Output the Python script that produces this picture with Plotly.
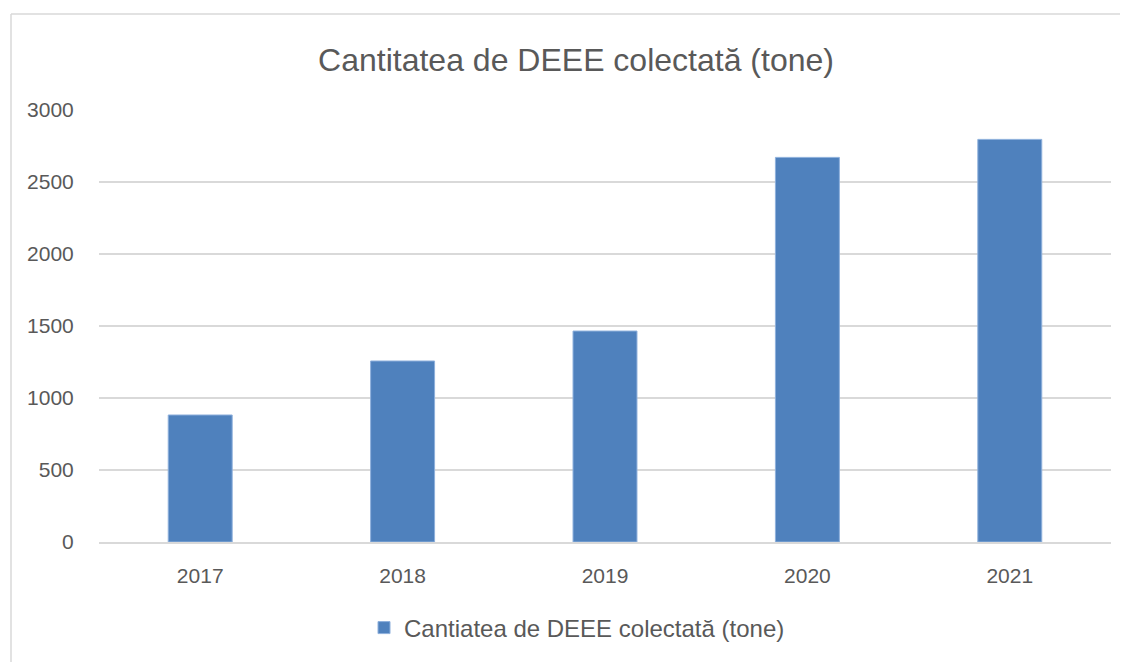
import plotly.graph_objects as go

years = ["2017", "2018", "2019", "2020", "2021"]
values = [882, 1257, 1465, 2671, 2796]
series_name = "Cantiatea de DEEE colectată (tone)"
title_text = "Cantitatea de DEEE colectată (tone)"
y_ticks = [0, 500, 1000, 1500, 2000, 2500, 3000]

# page has an 8px body margin; work in page coordinates minus 8
OFF = 8
W, H = 1128 - OFF, 662 - OFF
L, T = 99 - OFF, 110 - OFF
R = 1128 - 1111
B = 662 - 542
pw = W - L - R
ph = H - T - B

fig = go.Figure()
fig.add_trace(go.Bar(
    x=years, y=values, name=series_name,
    marker=dict(color="#4f81bd", line=dict(color="#8eb0dc", width=1)),
    showlegend=True,
))

grey = "#595959"
bx = (11 - 99) / pw
by = 1 + (110 - 14) / ph
border = dict(color="#d9d9d9", width=1.5)
fig.update_layout(
    width=W, height=H,
    margin=dict(l=L, r=R, t=T, b=B, autoexpand=False),
    paper_bgcolor="white", plot_bgcolor="white",
    bargap=0.684,
    title=dict(text=title_text, x=(576 - OFF) / W, xanchor="center", xref="container",
               y=1 - (60 - OFF) / H, yanchor="middle", yref="container",
               font=dict(family="Liberation Sans, Arial", size=32, color=grey)),
    font=dict(family="Liberation Sans, Arial", color=grey),
    showlegend=True,
    legend=dict(orientation="h", x=(577 - 99) / pw, xanchor="center",
                y=-(628 - 542) / ph, yanchor="middle",
                font=dict(size=24, color=grey), bgcolor="rgba(0,0,0,0)"),
    xaxis=dict(showgrid=False, showline=True, linecolor="#d9d9d9", linewidth=1.5,
               ticks="outside", ticklen=14, tickcolor="rgba(0,0,0,0)",
               tickfont=dict(size=21, color=grey)),
    yaxis=dict(range=[0, 3000], tickvals=y_ticks, showgrid=True,
               gridcolor="#d9d9d9", gridwidth=1.5, zeroline=False,
               showline=False, ticks="outside", ticklen=20,
               tickcolor="rgba(0,0,0,0)", tickfont=dict(size=21, color=grey)),
    shapes=[
        dict(type="line", xref="paper", yref="paper", x0=bx, x1=1.3, y0=by, y1=by,
             line=border, layer="below"),
        dict(type="line", xref="paper", yref="paper", x0=bx, x1=bx, y0=by, y1=-0.6,
             line=border, layer="below"),
    ],
)

fig.write_html("out.html")
